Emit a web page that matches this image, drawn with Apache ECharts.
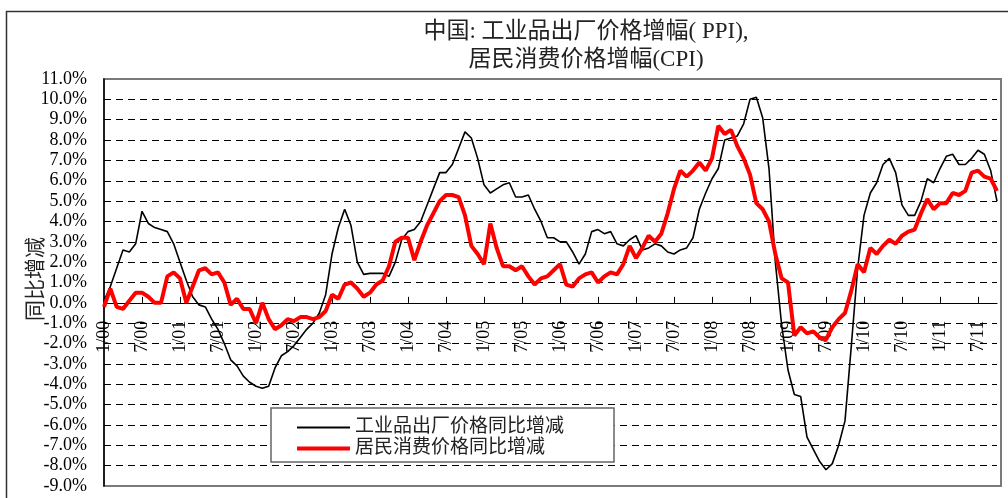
<!DOCTYPE html>
<html>
<head>
<meta charset="utf-8">
<script src="https://cdn.jsdelivr.net/npm/echarts@6.0.0/dist/echarts.min.js"></script>
<style>
  html, body { margin: 0; padding: 0; background: #fff; }
  #chart { width: 1008px; height: 498px; }
</style>
</head>
<body>
<div id="chart"></div>
<script>
// months 1/00 .. 10/11
var years = ['00', '01', '02', '03', '04', '05', '06', '07', '08', '09', '10', '11'];
var lastYearMonths = 10;

// 工业品出厂价格同比增减 (PPI, %)
var ppi = [
  0.1, 0.8, 1.7, 2.6, 2.5, 2.9, 4.5, 3.9, 3.7, 3.6, 3.5, 2.9,
  2.0, 1.1, 0.3, -0.1, -0.2, -0.8, -1.3, -2.0, -2.8, -3.1, -3.6, -3.9,
  -4.1, -4.2, -4.1, -3.2, -2.6, -2.4, -2.1, -1.7, -1.3, -1.0, -0.5, 0.4,
  2.4, 3.7, 4.6, 3.8, 2.0, 1.4, 1.45, 1.45, 1.45, 1.3, 2.0, 3.1,
  3.5, 3.6, 4.0, 4.8, 5.6, 6.4, 6.4, 6.8, 7.6, 8.4, 8.1, 7.1,
  5.8, 5.4, 5.6, 5.8, 5.9, 5.2, 5.2, 5.3, 4.6, 4.0, 3.2, 3.2,
  3.0, 3.0, 2.5, 1.9, 2.4, 3.5, 3.6, 3.4, 3.5, 2.9, 2.8, 3.1,
  3.3, 2.6, 2.7, 2.9, 2.8, 2.5, 2.4, 2.6, 2.7, 3.2, 4.6, 5.4,
  6.1, 6.6, 8.0, 8.1, 8.2, 8.8, 10.0, 10.1, 9.1, 6.6, 2.0, -1.1,
  -3.3, -4.5, -4.6, -6.6, -7.2, -7.8, -8.2, -7.9, -7.0, -5.8, -2.1, 1.7,
  4.3, 5.4, 5.9, 6.8, 7.1, 6.4, 4.8, 4.3, 4.3, 5.0, 6.1, 5.9,
  6.6, 7.2, 7.3, 6.8, 6.8, 7.1, 7.5, 7.3, 6.5, 5.0
];

// 居民消费价格同比增减 (CPI, %)
var cpi = [
  -0.2, 0.7, -0.2, -0.3, 0.1, 0.5, 0.5, 0.3, 0.0, 0.0, 1.3, 1.5,
  1.2, 0.0, 0.8, 1.6, 1.7, 1.4, 1.5, 1.0, -0.1, 0.2, -0.3, -0.3,
  -1.0, 0.0, -0.8, -1.3, -1.1, -0.8, -0.9, -0.7, -0.7, -0.8, -0.7, -0.4,
  0.4, 0.2, 0.9, 1.0, 0.7, 0.3, 0.5, 0.9, 1.1, 1.8, 3.0, 3.2,
  3.2, 2.1, 3.0, 3.8, 4.4, 5.0, 5.3, 5.3, 5.2, 4.3, 2.8, 2.4,
  1.9, 3.9, 2.7, 1.8, 1.8, 1.6, 1.8, 1.3, 0.9, 1.2, 1.3, 1.6,
  1.9, 0.9, 0.8, 1.2, 1.4, 1.5, 1.0, 1.3, 1.5, 1.4, 1.9, 2.8,
  2.2, 2.7, 3.3, 3.0, 3.4, 4.4, 5.6, 6.5, 6.2, 6.5, 6.9, 6.5,
  7.1, 8.7, 8.3, 8.5, 7.7, 7.1, 6.3, 4.9, 4.6, 4.0, 2.4, 1.2,
  1.0, -1.6, -1.2, -1.5, -1.4, -1.7, -1.8, -1.2, -0.8, -0.5, 0.6, 1.9,
  1.5, 2.7, 2.4, 2.8, 3.1, 2.9, 3.3, 3.5, 3.6, 4.4, 5.1, 4.6,
  4.9, 4.9, 5.4, 5.3, 5.5, 6.4, 6.5, 6.2, 6.1, 5.5
];

var months = [];
years.forEach(function (y, k) {
  var n = k === years.length - 1 ? lastYearMonths : 12;
  for (var m = 1; m <= n; m++) months.push(m + '/' + y);
});

var yMin = -9, yMax = 11;
var splitColors = [];
for (var v = yMin; v <= yMax; v++) {
  splitColors.push(v === yMin || v === yMax ? 'rgba(0,0,0,0)' : '#000');
}

// plot box
var gTop = 79, gBottom = 486, gLeft = 104;
var zeroOffset = (gBottom - gTop) * yMin / (yMax - yMin); // move x axis up onto 0%

var serif = "'Liberation Serif', 'Times New Roman', serif";
var cjk = "'Liberation Serif', 'Noto Sans CJK SC', serif";
var every6 = function (i) { return i % 6 === 0; };

var chart = echarts.init(document.getElementById('chart'));
chart.setOption({
  animation: false,
  backgroundColor: '#fff',
  grid: {
    left: gLeft, right: 11, top: gTop, bottom: 498 - gBottom,
    containLabel: false, outerBoundsMode: 'none'
  },
  graphic: [
    {
      type: 'rect', z: -10, silent: true,
      shape: { x: 6.5, y: 11.5, width: 1100, height: 600 },
      style: { fill: 'none', stroke: '#333', lineWidth: 1.5 }
    },
    {
      type: 'rect', z: -5, silent: true,
      shape: { x: gLeft, y: gTop, width: 897, height: gBottom - gTop },
      style: { fill: 'none', stroke: '#7a7a7a', lineWidth: 2 }
    },
    {
      type: 'text', x: 586, y: 32, silent: true,
      style: { text: '中国: 工业品出厂价格增幅( PPI),', fontFamily: cjk, fontSize: 23,
               fill: '#222', align: 'center', verticalAlign: 'middle' }
    },
    {
      type: 'text', x: 586, y: 60, silent: true,
      style: { text: '居民消费价格增幅(CPI)', fontFamily: cjk, fontSize: 23,
               fill: '#222', align: 'center', verticalAlign: 'middle' }
    },
    {
      // y axis title
      type: 'text', x: 36, y: 279, rotation: Math.PI / 2, silent: true,
      style: { text: '同比增减', fontFamily: cjk, fontSize: 21,
               fill: '#222', align: 'center', verticalAlign: 'middle' }
    }
  ],
  legend: [
    {
      left: 271, top: 408, z: 20,
      padding: [10, 50, 25, 26],
      itemWidth: 53, itemHeight: 2, icon: 'rect',
      backgroundColor: '#fff', borderColor: '#666', borderWidth: 1.5,
      textStyle: { fontFamily: cjk, fontSize: 19, color: '#222' },
      data: ['工业品出厂价格同比增减']
    },
    {
      left: 271, top: 439, z: 21,
      padding: [0, 0, 0, 26],
      itemWidth: 53, itemHeight: 4, icon: 'rect',
      textStyle: { fontFamily: cjk, fontSize: 19, color: '#222' },
      data: ['居民消费价格同比增减']
    }
  ],
  xAxis: {
    type: 'category',
    data: months,
    boundaryGap: false,
    position: 'bottom',
    offset: zeroOffset,
    axisLine: { onZero: false, lineStyle: { color: '#000', width: 1.2 } },
    axisTick: { show: true, inside: true, length: 6, interval: every6, lineStyle: { color: '#000' } },
    axisLabel: { interval: every6, rotate: 90, margin: 18, fontFamily: serif, fontSize: 18, color: '#000' },
    splitLine: { show: false }
  },
  yAxis: {
    type: 'value', min: yMin, max: yMax, interval: 1,
    axisLine: { show: true, lineStyle: { color: '#000', width: 1.5 } },
    axisTick: { show: false },
    axisLabel: {
      formatter: function (v) { return v.toFixed(1) + '%'; },
      fontFamily: serif, fontSize: 18, color: '#000', margin: 17
    },
    splitLine: { show: true, lineStyle: { color: splitColors, type: [7, 5], width: 1 } }
  },
  series: [
    {
      name: '工业品出厂价格同比增减', type: 'line', data: ppi,
      symbol: 'none', showSymbol: false, z: 2,
      lineStyle: { color: '#000', width: 1.6 }, itemStyle: { color: '#000' }
    },
    {
      name: '居民消费价格同比增减', type: 'line', data: cpi,
      symbol: 'none', showSymbol: false, z: 3,
      lineStyle: { color: '#ff0000', width: 4 }, itemStyle: { color: '#ff0000' }
    }
  ]
});
</script>
</body>
</html>
